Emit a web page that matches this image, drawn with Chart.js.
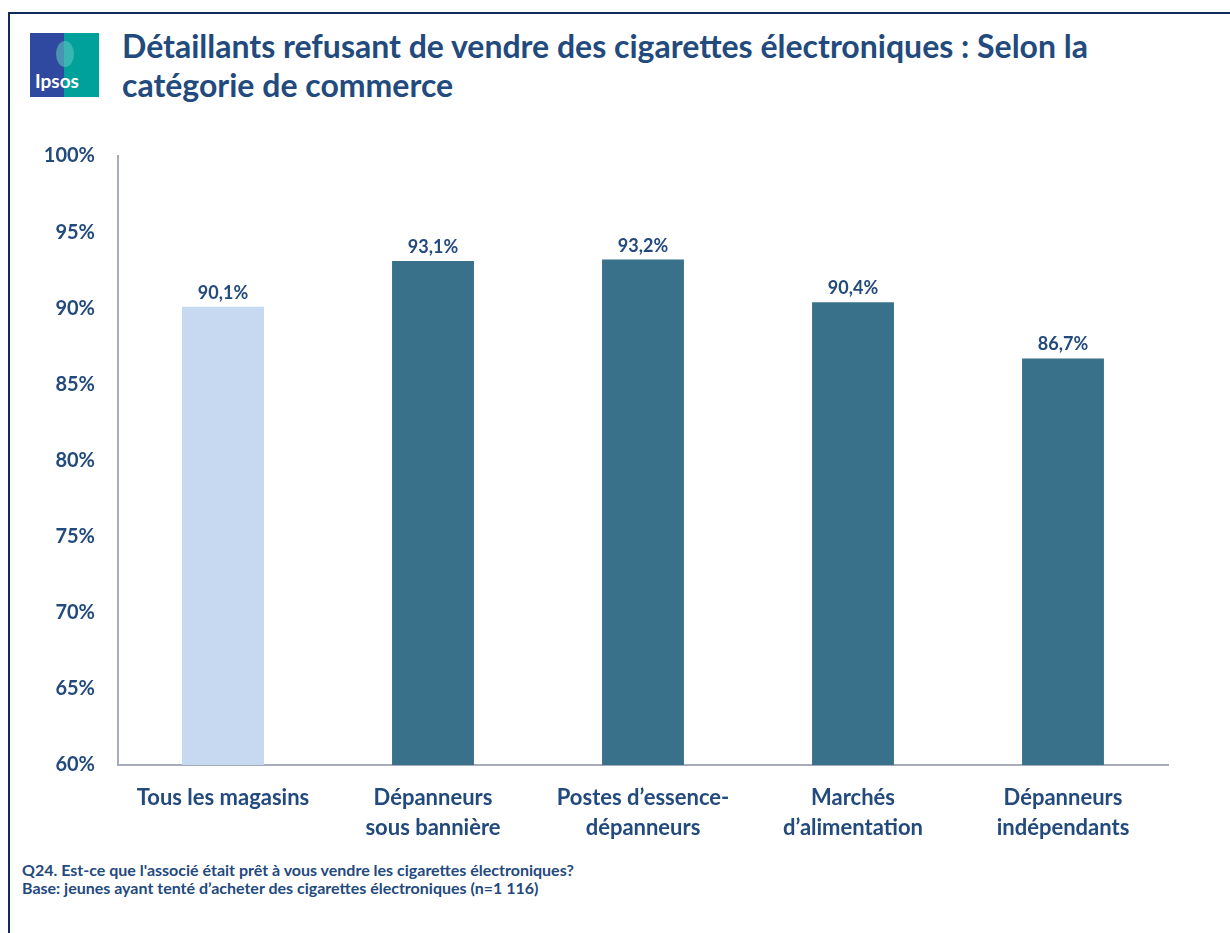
<!DOCTYPE html>
<html>
<head>
<meta charset="utf-8">
<script src="https://cdn.jsdelivr.net/npm/chart.js@4"></script>
<style>
  body { margin: 0; background: #fff; font-family: Lato, "Open Sans", sans-serif; }
  #page { position: relative; width: 1230px; height: 933px; overflow: hidden; }
  #frame { position: absolute; left: 8px; top: 12px; width: 1240px; height: 940px; border: 2px solid #13295c; }
  #logo { position: absolute; left: 30px; top: 33px; width: 69px; height: 64px;
          background: linear-gradient(to right, #2f49a0 0 50%, #00a19b 50% 100%); }
  #logo span { position: absolute; left: 5px; bottom: 5px; color: #fff; font: bold 19px Lato, sans-serif; }
  #logo i { position: absolute; left: 26px; top: 8px; width: 18px; height: 26px; border-radius: 50%; background: #5fc5c0; opacity: 0.6; }
  #title { position: absolute; left: 122px; top: 26px; color: #234a7d; font: bold 32px/39px Lato, sans-serif; }
  #foot { position: absolute; left: 22px; top: 861px; color: #234a7d; font: bold 16px/18px Lato, sans-serif; }
  #wrap { position: absolute; left: 20px; top: 129px; width: 1180px; height: 721px; }
</style>
</head>
<body>
<div id="page">
  <div id="frame"></div>
  <div id="logo"><i></i><span>Ipsos</span></div>
  <div id="title">Détaillants refusant de vendre des cigarettes électroniques : Selon la<br>catégorie de commerce</div>
  <div id="wrap"><canvas id="chart"></canvas></div>
  <div id="foot">Q24. Est-ce que l'associé était prêt à vous vendre les cigarettes électroniques?<br>Base: jeunes ayant tenté d’acheter des cigarettes électroniques (n=1 116)</div>
</div>
<script>
// categories and values
const categories = [
    ['Tous les magasins'],
    ['Dépanneurs', 'sous bannière'],
    ['Postes d’essence-', 'dépanneurs'],
    ['Marchés', 'd’alimentation'],
    ['Dépanneurs', 'indépendants']
];
const values = [90.1, 93.1, 93.2, 90.4, 86.7];
const barColors = ['#c6d9f0', '#39718a', '#39718a', '#39718a', '#39718a'];
const yTicks = [60, 65, 70, 75, 80, 85, 90, 95, 100];

const textColor = '#234a7d';

// value labels above bars
const valueLabels = {
    id: 'valueLabels',
    afterDatasetsDraw(chart) {
        const ctx = chart.ctx;
        const meta = chart.getDatasetMeta(0);
        ctx.save();
        ctx.font = 'bold 18px Lato, sans-serif';
        ctx.fillStyle = textColor;
        ctx.textAlign = 'center';
        ctx.textBaseline = 'alphabetic';
        meta.data.forEach(function (bar, i) {
            ctx.fillText(values[i].toFixed(1).replace('.', ',') + '%', bar.x, bar.y - 8);
        });
        ctx.restore();
    }
};

var chartCanvas = document.getElementById('chart').getContext('2d');
var chart = new Chart(chartCanvas, {
    type: 'bar',
    data: {
        labels: categories,
        datasets: [{
            data: values,
            backgroundColor: barColors,
            categoryPercentage: 1,
            barPercentage: 0.39
        }]
    },
    options: {
        responsive: true,
        maintainAspectRatio: false,
        animation: false,
        layout: { padding: { top: 15, right: 32, left: 0, bottom: 0 } },
        plugins: { legend: { display: false }, tooltip: { enabled: false } },
        scales: {
            y: {
                min: 60,
                max: 100,
                afterBuildTicks(scale) { scale.ticks = yTicks.map(v => ({ value: v })); },
                afterFit(scale) { scale.width = 98; },
                grid: { display: false },
                border: { display: true, color: '#a7acbd', width: 2 },
                ticks: {
                    padding: 15,
                    color: textColor,
                    font: { family: 'Lato', size: 20, weight: 'bold' },
                    callback: v => v + '%'
                }
            },
            x: {
                afterFit(scale) { scale.height = 85; },
                grid: { display: false },
                border: { display: true, color: '#a7acbd', width: 2 },
                ticks: {
                    padding: 10,
                    maxRotation: 0,
                    color: textColor,
                    font: { family: 'Lato', size: 22, weight: 'bold', lineHeight: 1.36 }
                }
            }
        }
    },
    plugins: [valueLabels]
});
</script>
</body>
</html>
